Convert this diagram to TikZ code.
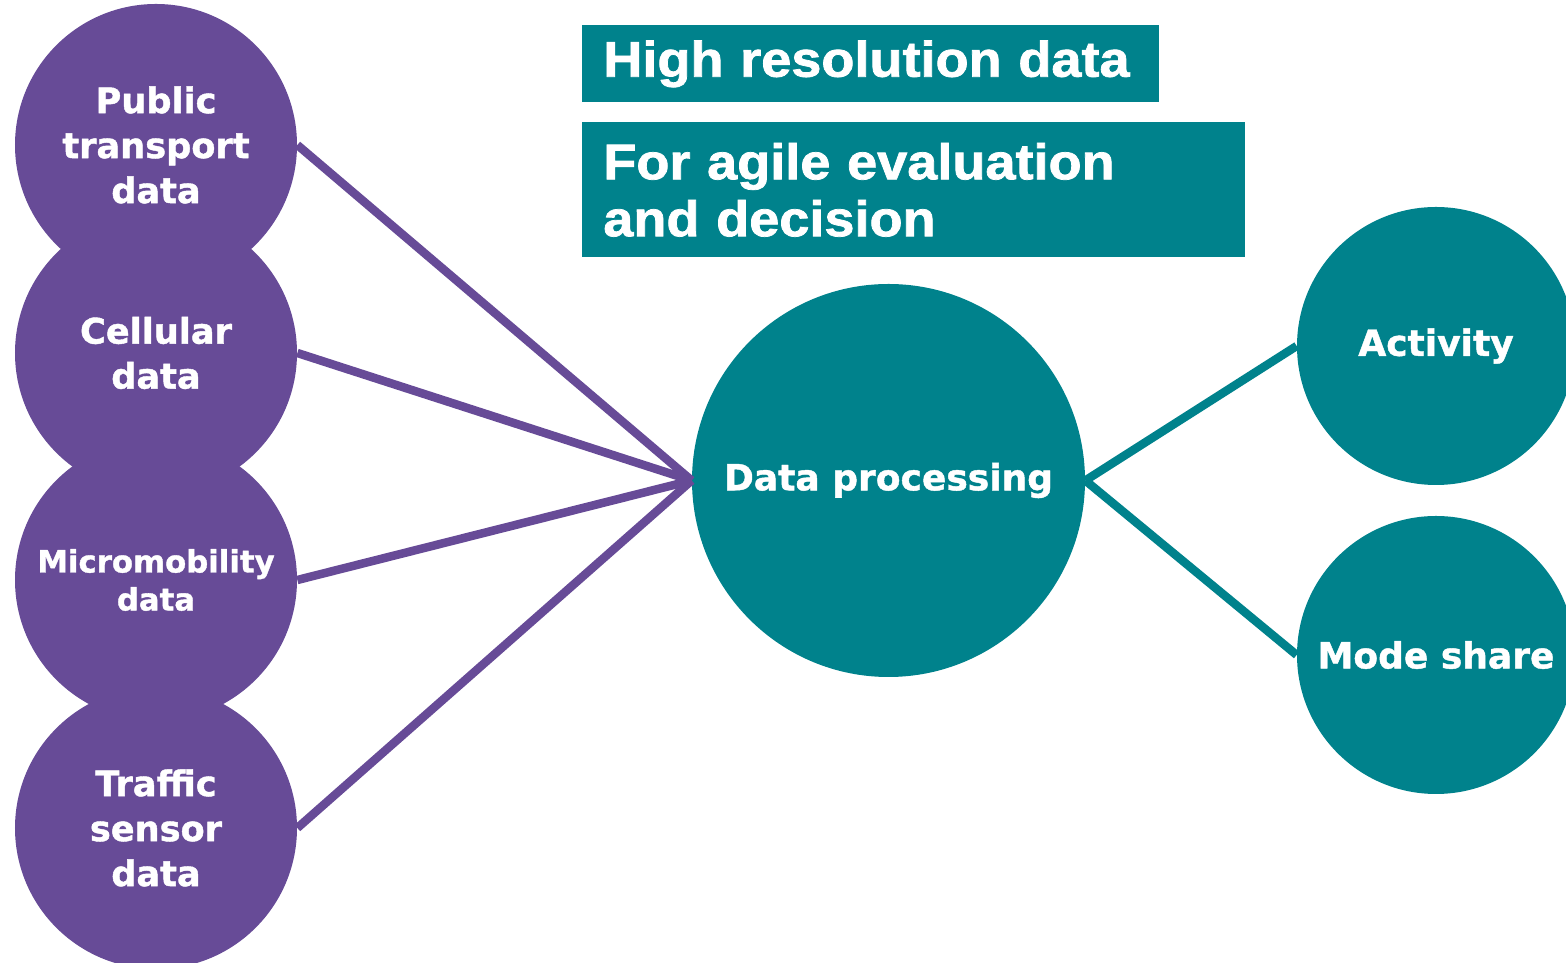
\documentclass[tikz,border=0pt]{standalone}
\usepackage{fontspec}
\setmainfont{DejaVu Sans}
\newfontfamily\labelfont[FakeBold=1.2]{DejaVu Sans}
\newfontfamily\headfont[FakeStretch=1.08, FakeBold=1.5]{Liberation Sans}
\definecolor{dpurple}{HTML}{674B97}
\definecolor{dteal}{HTML}{00828C}

\begin{document}
\begin{tikzpicture}[
    source/.style={circle, fill=dpurple, text=white, minimum size=5.64cm, inner sep=0pt, align=center},
    result/.style={circle, fill=dteal, text=white, minimum size=5.56cm, inner sep=0pt,
        font=\labelfont\bfseries\fontsize{20.5}{25}\selectfont},
    headbox/.style={rectangle, fill=dteal, text=white, anchor=north west, align=left,
        inner xsep=0.42cm, inner ysep=0pt, font=\headfont\bfseries\fontsize{28.5}{32.4}\selectfont},
    inlink/.style={draw=dpurple, line width=0.17cm},
    outlink/.style={draw=dteal, line width=0.17cm}
  ]
  \path[use as bounding box, clip] (0,0) rectangle (31.32,19.26);

  % Data sources
  \foreach \y/\fs/\bs/\lbl [count=\i] in {16.36/20/25.6/{Public\\transport\\data},
      12.20/20/25.6/{Cellular\\data}, 7.66/17.5/21.6/{Micromobility\\data},
      2.70/20/25.6/{Traffic\\sensor\\data}}
      \node[source, font=\labelfont\bfseries\fontsize{\fs}{\bs}\selectfont] (source-\i) at (3.12,\y) {\lbl};

  % Processing
  \node[circle, fill=dteal, text=white, minimum size=7.86cm, inner sep=0pt,
      font=\labelfont\bfseries\fontsize{20.5}{25}\selectfont] (process) at (17.77,9.65) {Data processing};

  % Results
  \node[result] (result-1) at (28.72,12.34) {Activity};
  \node[result] (result-2) at (28.72,6.16) {Mode share};

  % Headings
  \node[headbox, text width=10.70cm, minimum height=1.54cm] (head-1) at (11.64,18.76) {High resolution data};
  \node[headbox, text width=12.42cm, minimum height=2.70cm] (head-2) at (11.64,16.82) {For agile evaluation\\and decision};

  % Connect sources with processing
  \foreach \i in {1,...,4}
      \draw[inlink] (source-\i.east) -- (process.west);

  % Connect processing with results
  \foreach \i in {1,2}
      \draw[outlink] (process.east) -- (result-\i.west);
\end{tikzpicture}
\end{document}
